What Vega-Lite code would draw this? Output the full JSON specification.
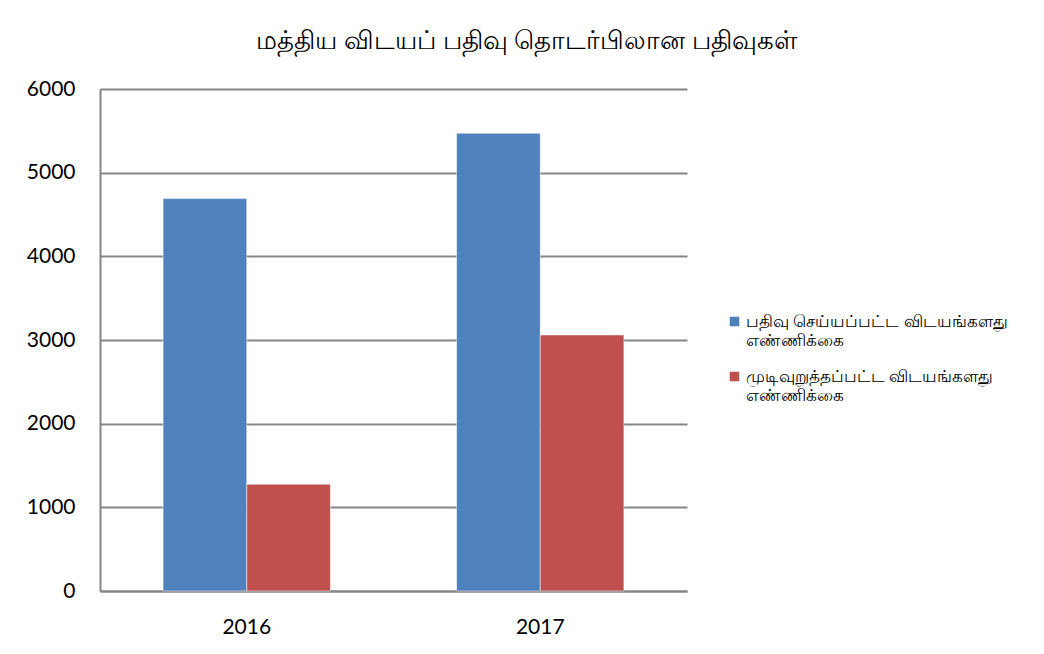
{
  "$schema": "https://vega.github.io/schema/vega-lite/v6.json",
  "width": 587,
  "height": 502,
  "autosize": {"type": "none"},
  "padding": {"left": 100, "top": 89, "right": 357, "bottom": 63},
  "background": "white",
  "title": {
    "text": "மத்திய விடயப் பதிவு தொடர்பிலான பதிவுகள்",
    "anchor": "middle",
    "frame": "group",
    "dx": 133,
    "offset": 24,
    "fontSize": 26,
    "fontWeight": "normal",
    "font": "Noto Sans",
    "color": "#000000"
  },
  "data": {
    "values": [
      {"year": "2016", "series": "பதிவு செய்யப்பட்ட விடயங்களது எண்ணிக்கை", "value": 4690},
      {"year": "2016", "series": "முடிவுறுத்தப்பட்ட விடயங்களது எண்ணிக்கை", "value": 1275},
      {"year": "2017", "series": "பதிவு செய்யப்பட்ட விடயங்களது எண்ணிக்கை", "value": 5470},
      {"year": "2017", "series": "முடிவுறுத்தப்பட்ட விடயங்களது எண்ணிக்கை", "value": 3060}
    ]
  },
  "mark": {"type": "bar"},
  "encoding": {
    "x": {
      "field": "year",
      "type": "nominal",
      "scale": {"paddingInner": 0.43, "paddingOuter": 0.215},
      "axis": {
        "title": null,
        "labelAngle": 0,
        "labelFontSize": 21,
        "labelFont": "Lato",
        "labelColor": "#000000",
        "labelPadding": 25,
        "ticks": false,
        "domainColor": "#868686",
        "domainWidth": 2,
        "grid": false
      }
    },
    "xOffset": {
      "field": "series",
      "type": "nominal",
      "scale": {"paddingInner": 0, "paddingOuter": 0}
    },
    "y": {
      "field": "value",
      "type": "quantitative",
      "scale": {"domain": [0, 6000], "nice": false},
      "axis": {
        "title": null,
        "values": [0, 1000, 2000, 3000, 4000, 5000, 6000],
        "format": "d",
        "labelFontSize": 21,
        "labelFont": "Lato",
        "labelColor": "#000000",
        "labelPadding": 25,
        "ticks": false,
        "domainColor": "#868686",
        "domainWidth": 2,
        "grid": true,
        "gridColor": "#868686",
        "gridWidth": 2
      }
    },
    "color": {
      "field": "series",
      "type": "nominal",
      "scale": {
        "domain": ["பதிவு செய்யப்பட்ட விடயங்களது எண்ணிக்கை", "முடிவுறுத்தப்பட்ட விடயங்களது எண்ணிக்கை"],
        "range": ["#4F81BD", "#C0504D"]
      },
      "legend": {
        "title": null,
        "orient": "none",
        "legendX": 626,
        "legendY": 224,
        "symbolType": "square",
        "symbolSize": 100,
        "symbolStrokeWidth": 0,
        "labelFontSize": 17,
        "labelFont": "Noto Sans",
        "labelColor": "#000000",
        "labelOffset": 3,
        "labelLimit": 400,
        "rowPadding": 18,
        "labelExpr": "[slice(datum.label, 0, lastindexof(datum.label, ' ')), slice(datum.label, lastindexof(datum.label, ' ') + 1)]",
        "encode": {"labels": {"update": {"lineHeight": {"value": 20}}}}
      }
    }
  },
  "config": {
    "view": {"stroke": null},
    "bar": {"stroke": "white", "strokeWidth": 0.5}
  }
}
